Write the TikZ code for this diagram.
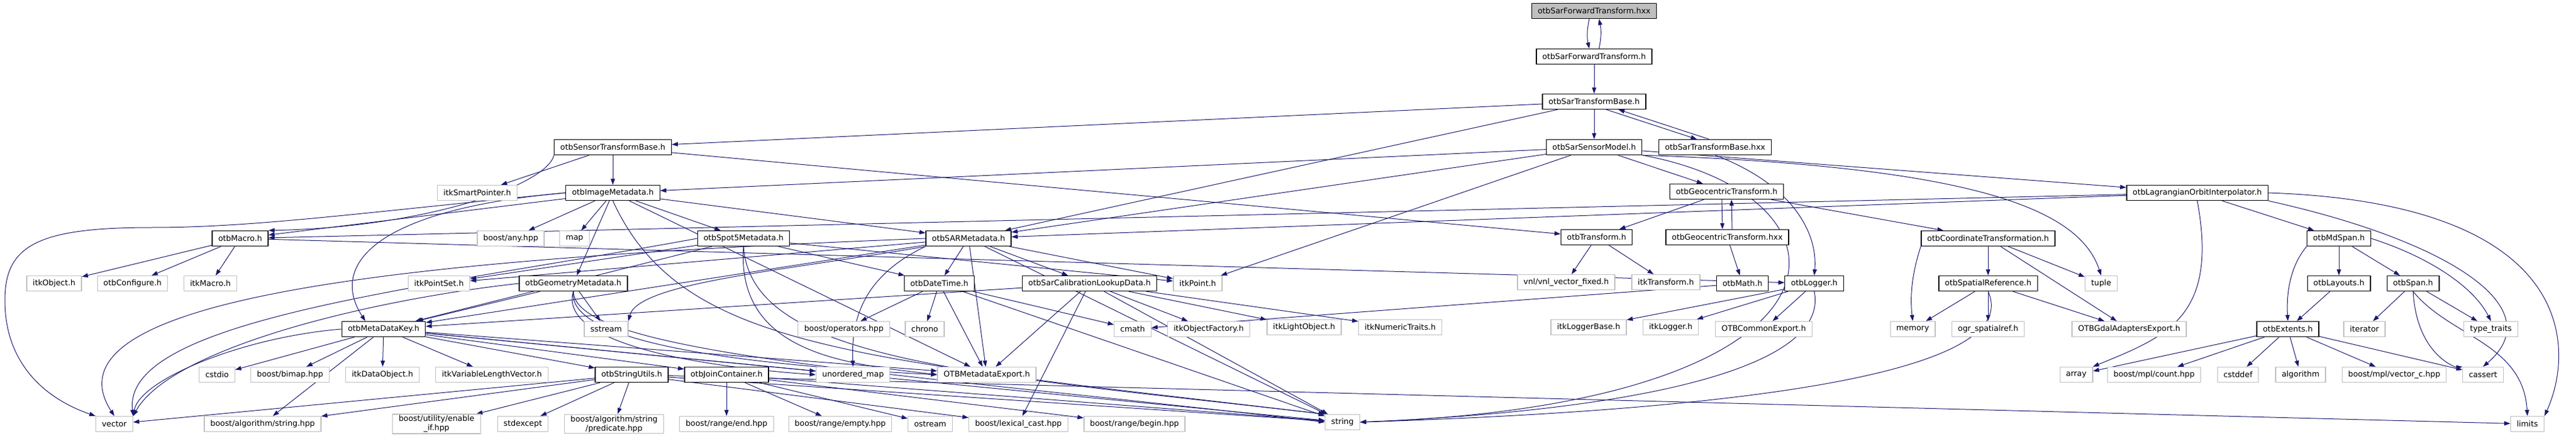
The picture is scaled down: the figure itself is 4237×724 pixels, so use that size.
\documentclass[tikz,border=0pt]{standalone}
\usepackage{fontspec}
\setmainfont{DejaVu Sans}
\usetikzlibrary{arrows.meta}
\definecolor{edgeblue}{HTML}{191970}
\definecolor{grey75}{HTML}{BFBFBF}
\pgfdeclarelayer{background}
\pgfsetlayers{background,main}
\tikzset{
  hdr/.style={rectangle, minimum height=25pt, inner xsep=10pt, inner ysep=2pt, line width=1.3pt,
    font=\fontsize{12.85}{15}\selectfont, align=center},
  docnode/.style={hdr, draw=black, fill=white},
  extnode/.style={hdr, draw=grey75, fill=white},
  rootnode/.style={hdr, draw=black, fill=grey75},
  incl/.style={draw=edgeblue, line width=1pt, -{Triangle[length=10pt,width=7pt]}}
}

\begin{document}
\begin{tikzpicture}[x=1pt,y=1pt]
\useasboundingbox (0,0) rectangle (4237,724);

% top of the graph
\node[rootnode] (sfthxx) at (2622,706) {otbSarForwardTransform.hxx};
\node[docnode] (sfth) at (2622,631) {otbSarForwardTransform.h};
\node[docnode] (stb) at (2622,557) {otbSarTransformBase.h};
\node[docnode] (stbase) at (1008,482) {otbSensorTransformBase.h};
\node[docnode] (ssm) at (2622,482) {otbSarSensorModel.h};
\node[docnode] (stbhxx) at (2821,482) {otbSarTransformBase.hxx};

\node[extnode] (smartptr) at (785,407) {itkSmartPointer.h};
\node[docnode] (imd) at (1008,407) {otbImageMetadata.h};
\node[docnode] (geotr) at (2840,409) {otbGeocentricTransform.h};
\node[docnode] (lagr) at (3614,407) {otbLagrangianOrbitInterpolator.h};

\node[docnode] (macro) at (395,332) {otbMacro.h};
\node[extnode] (anyhpp) at (840,332) {boost/any.hpp};
\node[extnode] (map) at (945,332) {map};
\node[docnode] (spot5) at (1223,332) {otbSpot5Metadata.h};
\node[docnode] (sarmd) at (1593,332) {otbSARMetadata.h};
\node[docnode] (transform) at (2626,334) {otbTransform.h};
\node[docnode] (geotrhxx) at (2841,334) {otbGeocentricTransform.hxx};
\node[docnode] (coordtr) at (3270,332) {otbCoordinateTransformation.h};
\node[docnode] (mdspan) at (3847,332) {otbMdSpan.h};

% middle rows
\node[extnode] (itkobject) at (89,258) {itkObject.h};
\node[extnode] (configure) at (218,258) {otbConfigure.h};
\node[extnode] (itkmacro) at (346,258) {itkMacro.h};
\node[extnode] (pointset) at (722,258) {itkPointSet.h};
\node[docnode] (geommd) at (943,258) {otbGeometryMetadata.h};
\node[docnode] (datetime) at (1545,258) {otbDateTime.h};
\node[docnode] (sarcalib) at (1792,258) {otbSarCalibrationLookupData.h};
\node[extnode] (itkpoint) at (1970,258) {itkPoint.h};
\node[extnode] (vnl) at (2576,260) {vnl/vnl\_vector\_fixed.h};
\node[extnode] (itktransform) at (2740,260) {itkTransform.h};
\node[docnode] (math) at (2866,258) {otbMath.h};
\node[docnode] (logger) at (2984,258) {otbLogger.h};
\node[docnode] (spatialref) at (3270,258) {otbSpatialReference.h};
\node[extnode] (tuple) at (3456,258) {tuple};
\node[docnode] (layouts) at (3847,258) {otbLayouts.h};
\node[docnode] (span) at (3969,258) {otbSpan.h};

\node[docnode] (mdk) at (631,183) {otbMetaDataKey.h};
\node[extnode] (sstream) at (997,183) {sstream};
\node[extnode] (operators) at (1388,183) {boost/operators.hpp};
\node[extnode] (chrono) at (1521,183) {chrono};
\node[extnode] (cmath) at (1863,183) {cmath};
\node[extnode] (objfactory) at (1988,183) {itkObjectFactory.h};
\node[extnode] (lightobj) at (2145,186) {itkLightObject.h};
\node[extnode] (numtraits) at (2303,186) {itkNumericTraits.h};
\node[extnode] (loggerbase) at (2613,186) {itkLoggerBase.h};
\node[extnode] (itklogger) at (2748,186) {itkLogger.h};
\node[extnode] (commonexport) at (2901,183) {OTBCommonExport.h};
\node[extnode] (memory) at (3146,183) {memory};
\node[extnode] (ogr) at (3270,183) {ogr\_spatialref.h};
\node[extnode] (gdalexport) at (3502,183) {OTBGdalAdaptersExport.h};
\node[docnode] (extents) at (3763,183) {otbExtents.h};
\node[extnode] (iterator) at (3889,183) {iterator};
\node[extnode] (typetraits) at (4097,183) {type\_traits};

% lower rows
\node[extnode] (cstdio) at (357,108) {cstdio};
\node[extnode] (bimap) at (477,108) {boost/bimap.hpp};
\node[extnode] (dataobj) at (629,108) {itkDataObject.h};
\node[extnode] (vlv) at (809,108) {itkVariableLengthVector.h};
\node[docnode] (strutils) at (1039,108) {otbStringUtils.h};
\node[docnode] (joincont) at (1195,108) {otbJoinContainer.h};
\node[extnode] (umap) at (1403,108) {unordered\_map};
\node[extnode] (mdexport) at (1623,108) {OTBMetadataExport.h};
\node[extnode] (array) at (3415,108) {array};
\node[extnode] (mplcount) at (3543,108) {boost/mpl/count.hpp};
\node[extnode] (cstddef) at (3681,108) {cstddef};
\node[extnode] (algorithm) at (3784,108) {algorithm};
\node[extnode] (vectorc) at (3938,108) {boost/mpl/vector\_c.hpp};
\node[extnode] (cassert) at (4084,108) {cassert};

\node[extnode] (vector) at (188,27) {vector};
\node[extnode] (algostring) at (432,27) {boost/algorithm/string.hpp};
\node[extnode] (enableif) at (718,27) {boost/utility/enable\\\_if.hpp};
\node[extnode] (stdexcept) at (860,27) {stdexcept};
\node[extnode] (predicate) at (1010,27) {boost/algorithm/string\\/predicate.hpp};
\node[extnode] (rangeend) at (1195,27) {boost/range/end.hpp};
\node[extnode] (rangeempty) at (1382,27) {boost/range/empty.hpp};
\node[extnode] (ostream) at (1530,27) {ostream};
\node[extnode] (lexcast) at (1675,27) {boost/lexical\_cast.hpp};
\node[extnode] (rangebegin) at (1866,27) {boost/range/begin.hpp};
\node[extnode] (string) at (2208,30) {string};
\node[extnode] (limits) at (4157,27) {limits};

\begin{pgfonlayer}{background}
% includes, grouped by the including file
\draw[incl] ([xshift=-8pt]sfthxx.south) to[bend right=12] ([xshift=-8pt]sfth.north);
\draw[incl] ([xshift=8pt]sfth.north) to[bend right=12] ([xshift=8pt]sfthxx.south);
\draw[incl] (sfth) -- (stb);

\foreach \t in {ssm,stbase,sarmd} \draw[incl] (stb) -- (\t);
\draw[incl] ([xshift=20pt]stb.south) -- ([xshift=-30pt]stbhxx.north);
\draw[incl] ([xshift=-10pt]stbhxx.north) -- ([xshift=40pt]stb.south);
\draw[incl] (stbhxx.south) .. controls (2950,420) and (2990,340) .. (logger.north);

\foreach \t in {imd,sarmd,itkpoint,geotr,lagr} \draw[incl] (ssm) -- (\t);
\draw[incl] (ssm.south east) .. controls (3250,450) and (3420,380) .. (tuple.north);
\draw[incl] (ssm.south east) .. controls (3075,400) and (3080,60) .. (string.east);

\foreach \t in {smartptr,imd,transform} \draw[incl] (stbase) -- (\t);
\draw[incl] (stbase.south west) .. controls (900,420) and (700,350) .. (macro.north east);

\foreach \t in {macro,anyhpp,map,geommd,spot5,sarmd,mdexport} \draw[incl] (imd) -- (\t);
\draw[incl] (imd.south) .. controls (1120,150) and (1400,135) .. (string.north west);
\draw[incl] (imd.west) .. controls (620,380) and (540,290) .. ([xshift=-30pt]mdk.north);
\draw[incl] (imd.west) .. controls (600,375) and (420,350) .. (250,350)
  .. controls (60,350) and (8,320) .. (8,230) .. controls (8,130) and (70,70) .. (vector.north west);

\draw[incl] (geotr) -- (transform);
\draw[incl] (geotr) -- (coordtr);
\draw[incl] ([xshift=-8pt]geotr.south) -- ([xshift=-8pt]geotrhxx.north);
\draw[incl] ([xshift=8pt]geotrhxx.north) -- ([xshift=8pt]geotr.south);
\draw[incl] (geotrhxx) -- (math);

\foreach \t in {macro,sarmd,mdspan} \draw[incl] (lagr) -- (\t);
\draw[incl] (lagr.south) .. controls (3650,200) and (3560,170) .. (array.north east);
\draw[incl] (lagr.south east) .. controls (4020,330) and (4200,220) .. (cassert.north);
\draw[incl] (lagr.east) .. controls (4240,390) and (4235,150) .. (limits.north east);

\foreach \t in {itkobject,configure,itkmacro,logger} \draw[incl] (macro) -- (\t);

\foreach \t in {datetime,itkpoint,pointset,mdk} \draw[incl] (spot5) -- (\t);
\draw[incl] (spot5.west) .. controls (700,250) and (200,200) .. (vector.north east);
\draw[incl] (spot5.south) .. controls (1210,140) and (1400,125) .. (mdexport.west);
\draw[incl] (spot5.south) .. controls (1235,130) and (1600,110) .. (string.north west);

\foreach \t in {datetime,sarcalib,itkpoint,pointset,mdk,mdexport,string} \draw[incl] (sarmd) -- (\t);
\draw[incl] (sarmd.south west) .. controls (1300,280) and (1050,260) .. (sstream.north east);
\draw[incl] (sarmd.south west) .. controls (1420,270) and (1400,200) .. (umap.north);
\draw[incl] (sarmd.west) .. controls (700,300) and (60,240) .. (vector.north);

\foreach \t in {vnl,itktransform} \draw[incl] (transform) -- (\t);
\foreach \t in {spatialref,tuple,gdalexport} \draw[incl] (coordtr) -- (\t);
\draw[incl] (coordtr.south west) .. controls (3150,290) and (3140,250) .. (memory.north);
\foreach \t in {layouts,span} \draw[incl] (mdspan) -- (\t);
\draw[incl] (mdspan.south west) .. controls (3770,290) and (3760,250) .. (extents.north);
\draw[incl] (mdspan.east) .. controls (4000,300) and (4070,250) .. (typetraits.north);

\foreach \t in {sstream,mdk} \draw[incl] (geommd) -- (\t);
\draw[incl] (geommd.west) .. controls (600,230) and (280,150) .. (vector.north east);
\draw[incl] (geommd.south) .. controls (920,170) and (1100,125) .. (umap.west);
\draw[incl] (geommd.south) .. controls (930,150) and (1300,120) .. (mdexport.west);
\draw[incl] (geommd.south) .. controls (945,140) and (1500,110) .. (string.west);

\foreach \t in {operators,chrono,mdexport,cmath,string} \draw[incl] (datetime) -- (\t);
\foreach \t in {mdk,mdexport,lexcast,objfactory,lightobj,numtraits,string} \draw[incl] (sarcalib) -- (\t);
\draw[incl] (math) -- (cmath);
\foreach \t in {loggerbase,itklogger,commonexport} \draw[incl] (logger) -- (\t);
\draw[incl] (logger.south) .. controls (3010,120) and (2700,50) .. (string.east);
\foreach \t in {memory,ogr,gdalexport} \draw[incl] (spatialref) -- (\t);
\draw[incl] (spatialref.south) .. controls (3340,90) and (2700,45) .. (string.east);
\draw[incl] (layouts) -- (extents);
\foreach \t in {iterator,typetraits} \draw[incl] (span) -- (\t);
\draw[incl] (span.south) .. controls (3975,140) and (4040,120) .. (cassert.north west);
\draw[incl] (span.south) .. controls (4030,170) and (4150,160) .. (limits.north);

\foreach \t in {cstdio,bimap,dataobj,vlv,algostring,strutils,joincont,umap,mdexport,string} \draw[incl] (mdk) -- (\t);
\draw[incl] (mdk.west) .. controls (400,170) and (230,100) .. (vector.north east);
\foreach \t in {array,mplcount,cstddef,algorithm,vectorc,cassert} \draw[incl] (extents) -- (\t);
\foreach \t in {vector,algostring,enableif,stdexcept,predicate,lexcast,string,limits} \draw[incl] (strutils) -- (\t);
\foreach \t in {rangeend,rangeempty,ostream,rangebegin,string} \draw[incl] (joincont) -- (\t);
\end{pgfonlayer}
\end{tikzpicture}
\end{document}
